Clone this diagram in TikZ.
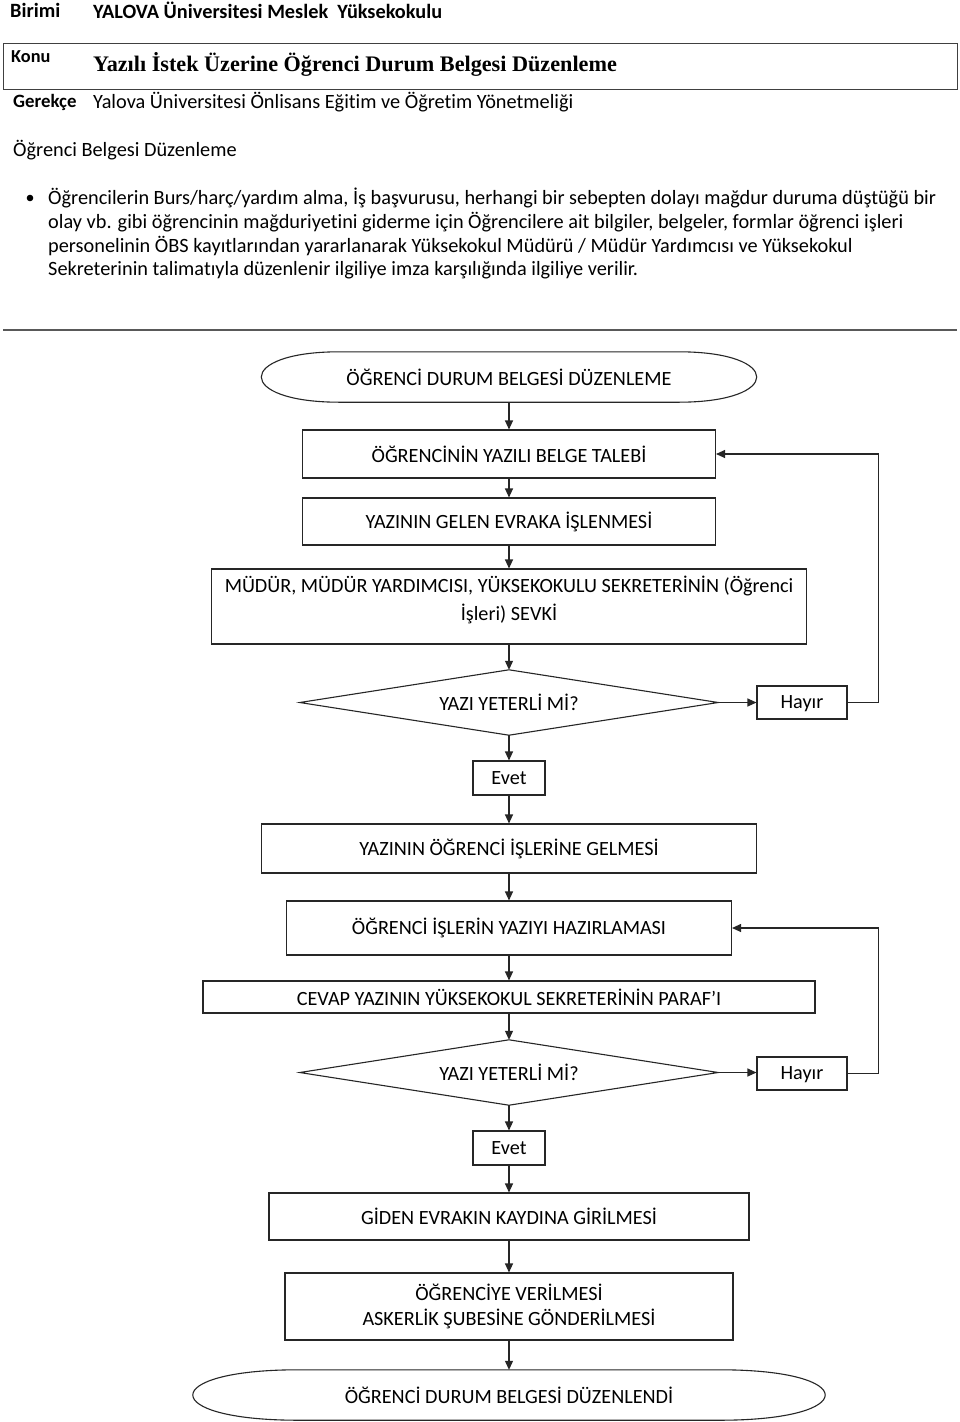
\documentclass[tikz,border=0pt]{standalone}
\usepackage{fontspec}
\setmainfont{Carlito}[Ligatures=NoCommon]
\newfontfamily\timesf{Liberation Serif}
\usetikzlibrary{arrows.meta,calc}
\begin{document}
\begin{tikzpicture}[x=1pt,y=-1pt,
  lbl/.style={inner sep=0pt, anchor=west, font=\fontsize{20.3}{24}\selectfont},
  hdr/.style={inner sep=0pt, anchor=west, font=\fontsize{20.3}{24}\selectfont\bfseries},
  procbox/.style={draw=black!85, line width=1.1pt, inner sep=2pt, align=center, font=\fontsize{20.2}{27}\selectfont},
  ghost/.style={inner sep=0pt, align=center, font=\fontsize{20.2}{27}\selectfont},
  flowline/.style={draw=black!85, line width=1.1pt},
  arr/.style={flowline, -{Triangle[length=9pt,width=8pt]}},
]
\useasboundingbox (0,0) rectangle (960,1422);
\fill[white] (0,0) rectangle (960,1422);

% ---------- header ----------
\node[hdr] (birimi) at (10,10) {Birimi};
\node[hdr] (birim) at (93,10) {YALOVA Üniversitesi Meslek\ \ Yüksekokulu};
\node[draw=black!75, line width=1pt, minimum width=954, minimum height=46, inner sep=0pt] (konubox) at (480,66) {};
\node[hdr, font=\fontsize{18.3}{22}\selectfont\bfseries] (konu) at (11,57) {Konu};
\node[inner sep=0pt, anchor=west, font=\timesf\fontsize{22.2}{26}\selectfont\bfseries] (konut) at (93,64) {Yazılı İstek Üzerine Öğrenci Durum Belgesi Düzenleme};
\node[hdr, font=\fontsize{18.8}{22}\selectfont\bfseries] (ger) at (13,102) {Gerekçe};
\node[lbl] (gert) at (93,102) {Yalova Üniversitesi Önlisans Eğitim ve Öğretim Yönetmeliği};
\node[lbl] (title) at (13,150) {Öğrenci Belgesi Düzenleme};
\fill (30,198) circle (3.3);
\node[lbl] (p1) at (48,198) {Öğrencilerin Burs/harç/yardım alma, İş başvurusu, herhangi bir sebepten dolayı mağdur duruma düştüğü bir};
\node[lbl] (p2) at (48,222) {olay vb. gibi öğrencinin mağduriyetini giderme için Öğrencilere ait bilgiler, belgeler, formlar öğrenci işleri};
\node[lbl] (p3) at (48,246) {personelinin ÖBS kayıtlarından yararlanarak Yüksekokul Müdürü / Müdür Yardımcısı ve Yüksekokul};
\node[lbl] (p4) at (48,270) {Sekreterinin talimatıyla düzenlenir ilgiliye imza karşılığında ilgiliye verilir.};
\draw[line width=1.3pt, black!65] (3,330) -- (957,330);

% ---------- flowchart ----------
\node[ghost, minimum width=495, minimum height=50] (start) at (509,377) {ÖĞRENCİ DURUM BELGESİ DÜZENLEME};
\draw[flowline] ([xshift=78pt]start.north west) -- ([xshift=-78pt]start.north east)
  .. controls ([xshift=26pt]start.north east) and ([xshift=26pt]start.south east) .. ([xshift=-78pt]start.south east)
  -- ([xshift=78pt]start.south west)
  .. controls ([xshift=-26pt]start.south west) and ([xshift=-26pt]start.north west) .. cycle;

\node[procbox, minimum width=413, minimum height=48] (b1) at (509,454) {ÖĞRENCİNİN YAZILI BELGE TALEBİ};
\node[procbox, minimum width=413, minimum height=47] (b2) at (509,521.5) {YAZININ GELEN EVRAKA İŞLENMESİ};
\node[procbox, minimum width=595, minimum height=75] (b3) at (509,606.5) {MÜDÜR, MÜDÜR YARDIMCISI, YÜKSEKOKULU SEKRETERİNİN (Öğrenci\\[1pt]İşleri) SEVKİ\\[-10pt]\mbox{}};

\node[ghost, minimum width=418, minimum height=65] (d1) at (509,702.5) {YAZI YETERLİ Mİ?};
\draw[flowline] (d1.north) -- (d1.east) -- (d1.south) -- (d1.west) -- cycle;
\node[procbox, minimum width=90, minimum height=33, text depth=0pt] (h1) at (802,702.5) {Hayır};
\node[procbox, minimum width=72, minimum height=34] (e1) at (509,778) {Evet};

\node[procbox, minimum width=495, minimum height=49] (b4) at (509,848.5) {YAZININ ÖĞRENCİ İŞLERİNE GELMESİ};
\node[procbox, minimum width=445, minimum height=54] (b5) at (509,928) {ÖĞRENCİ İŞLERİN YAZIYI HAZIRLAMASI};
\node[procbox, minimum width=612, minimum height=32] (b6) at (509,997) {CEVAP YAZININ YÜKSEKOKUL SEKRETERİNİN PARAF’I};

\node[ghost, minimum width=418, minimum height=65] (d2) at (509,1072.5) {YAZI YETERLİ Mİ?};
\draw[flowline] (d2.north) -- (d2.east) -- (d2.south) -- (d2.west) -- cycle;
\node[procbox, minimum width=90, minimum height=33, text depth=0pt] (h2) at (802,1073.5) {Hayır};
\node[procbox, minimum width=72, minimum height=34] (e2) at (509,1148) {Evet};

\node[procbox, minimum width=480, minimum height=47] (b7) at (509,1216.5) {GİDEN EVRAKIN KAYDINA GİRİLMESİ};
\node[procbox, minimum width=448, minimum height=67] (b8) at (509,1306.5) {ÖĞRENCİYE VERİLMESİ\\[-2pt]ASKERLİK ŞUBESİNE GÖNDERİLMESİ};

\node[ghost, minimum width=632, minimum height=50] (end) at (509,1395) {ÖĞRENCİ DURUM BELGESİ DÜZENLENDİ};
\draw[flowline] ([xshift=105pt]end.north west) -- ([xshift=-105pt]end.north east)
  .. controls ([xshift=35pt]end.north east) and ([xshift=35pt]end.south east) .. ([xshift=-105pt]end.south east)
  -- ([xshift=105pt]end.south west)
  .. controls ([xshift=-35pt]end.south west) and ([xshift=-35pt]end.north west) .. cycle;

% connectors
\draw[arr] (start) -- (b1);
\draw[arr] (b1) -- (b2);
\draw[arr] (b2) -- (b3);
\draw[arr] (b3) -- (d1.north);
\draw[arr] (d1.east) -- (d1.east -| h1.west);
\draw[arr] (d1.south) -- (e1);
\draw[arr] (e1) -- (b4);
\draw[arr] (b4) -- (b5);
\draw[arr] (b5) -- (b6);
\draw[arr] (b6) -- (d2.north);
\draw[arr] (d2.east) -- (d2.east -| h2.west);
\draw[arr] (d2.south) -- (e2);
\draw[arr] (e2) -- (b7);
\draw[arr] (b7) -- (b8);
\draw[arr] (b8) -- (end);
\draw[arr] (h1.east) -- ++(31,0) |- (b1.east);
\draw[arr] (h2.east) -- ++(31,0) |- (b5.east);
\end{tikzpicture}
\end{document}
